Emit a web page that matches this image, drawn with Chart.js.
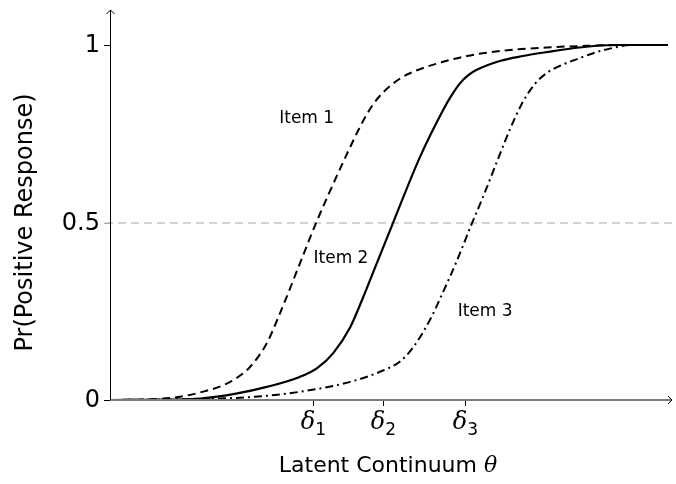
<!DOCTYPE html>
<html>
<head>
<meta charset="utf-8">
<script src="https://cdn.jsdelivr.net/npm/chart.js@4.4.1/dist/chart.umd.min.js"></script>
<style>
    html, body { margin: 0; padding: 0; background: #fff; }
    #wrap { width: 676px; height: 484px; }
</style>
</head>
<body>
<div id="wrap"><canvas id="iccChart" width="676" height="484"></canvas></div>
<script>
// latent continuum values (theta) and response probabilities
const item1Theta = [-3.9, -3.3, -2.9, -2.54, -2.3, -2.14, -1.9, -1.66, -1.47, -1.19, -0.97, -0.76, -0.51, -0.3, -0.15, 0, 0.24, 0.45, 0.71, 1.2, 1.67, 2.34, 2.81, 3.39, 4.07];
const item1Prob  = [0, 0.002, 0.009, 0.025, 0.040, 0.056, 0.093, 0.160, 0.245, 0.383, 0.492, 0.587, 0.695, 0.780, 0.830, 0.866, 0.905, 0.926, 0.944, 0.969, 0.983, 0.993, 0.997, 1.0, 1.0];

const item2Theta = [-3.9, -3.0, -2.61, -2.1, -1.66, -1.19, -0.94, -0.71, -0.47, -0.29, -0.09, 0.14, 0.53, 0.86, 0.98, 1.1, 1.22, 1.34, 1.67, 2.0, 2.34, 2.81, 3.29, 4.07];
const item2Prob  = [0, 0.001, 0.004, 0.018, 0.037, 0.065, 0.090, 0.132, 0.204, 0.286, 0.384, 0.497, 0.685, 0.817, 0.858, 0.892, 0.915, 0.930, 0.955, 0.969, 0.980, 0.993, 1.0, 1.0];

const item3Theta = [-3.9, -2.6, -1.9, -1.19, -0.47, 0, 0.24, 0.43, 0.67, 0.84, 1.06, 1.27, 1.43, 1.63, 1.82, 2.0, 2.17, 2.34, 2.57, 2.81, 3.05, 3.29, 3.53, 4.07];
const item3Prob  = [0, 0.003, 0.008, 0.023, 0.051, 0.083, 0.108, 0.148, 0.225, 0.296, 0.394, 0.497, 0.572, 0.672, 0.765, 0.840, 0.890, 0.921, 0.945, 0.963, 0.980, 0.992, 1.0, 1.0];

const itemLabels = ['Item 1', 'Item 2', 'Item 3'];
const labelTheta = [-1.09, -0.60, 1.46];
const labelProb  = [0.794, 0.399, 0.249];

const deltaValues = [-1.0, 0, 1.17];
const deltaSubs   = ['1', '2', '3'];
const yTickValues = [0, 0.5, 1];
const yTickLabels = ['0', '0.5', '1'];
const refLevel = 0.5;

const sansFont = '"DejaVu Sans", sans-serif';
const mathFont = '"DejaVu Serif", "Liberation Serif", serif';

function toPoints(xs, ys) {
    return xs.map(function(x, i) { return {x: x, y: ys[i]}; });
}

const axesPlugin = {
    id: 'axesPlugin',
    beforeDatasetsDraw: function(chart) {
        const ctx = chart.ctx;
        const area = chart.chartArea;
        const yScale = chart.scales.y;
        const y = Math.round(yScale.getPixelForValue(refLevel));
        ctx.save();
        ctx.strokeStyle = '#a8a8a8';
        ctx.lineWidth = 1.2;
        ctx.setLineDash([8, 5]);
        ctx.beginPath();
        ctx.moveTo(area.left - 5, y);
        ctx.lineTo(area.right, y);
        ctx.stroke();
        ctx.restore();
    },
    afterDraw: function(chart) {
        const ctx = chart.ctx;
        const area = chart.chartArea;
        const xScale = chart.scales.x;
        const yScale = chart.scales.y;
        const x0 = area.left + 0.5;
        const y0 = yScale.getPixelForValue(0);

        ctx.save();
        // x axis
        ctx.strokeStyle = '#7a7a7a';
        ctx.lineWidth = 2;
        ctx.beginPath();
        ctx.moveTo(area.left, y0);
        ctx.lineTo(area.right, y0);
        ctx.stroke();
        ctx.strokeStyle = '#000';
        ctx.lineWidth = 1;
        ctx.beginPath();
        ctx.moveTo(area.right - 4, y0 - 4);
        ctx.lineTo(area.right, y0);
        ctx.lineTo(area.right - 4, y0 + 4);
        ctx.stroke();

        // y axis
        ctx.beginPath();
        ctx.moveTo(x0, y0);
        ctx.lineTo(x0, area.top);
        ctx.stroke();
        ctx.beginPath();
        ctx.moveTo(x0 - 4, area.top + 4);
        ctx.lineTo(x0, area.top);
        ctx.lineTo(x0 + 4, area.top + 4);
        ctx.stroke();

        // y ticks
        ctx.fillStyle = '#000';
        ctx.font = '24px ' + sansFont;
        ctx.textAlign = 'right';
        ctx.textBaseline = 'middle';
        yTickValues.forEach(function(v, i) {
            const py = Math.round(yScale.getPixelForValue(v)) + 0.5;
            ctx.strokeStyle = v === refLevel ? '#a8a8a8' : '#000';
            ctx.beginPath();
            ctx.moveTo(area.left - 6, py);
            ctx.lineTo(area.left, py);
            ctx.stroke();
            ctx.fillText(yTickLabels[i], area.left - 10, py);
        });

        // x ticks (delta)
        ctx.strokeStyle = '#000';
        deltaValues.forEach(function(v, i) {
            const px = Math.round(xScale.getPixelForValue(v)) + 0.5;
            ctx.beginPath();
            ctx.moveTo(px, y0 + 1);
            ctx.lineTo(px, y0 + 6);
            ctx.stroke();
            ctx.font = 'italic 24px ' + mathFont;
            const wd = ctx.measureText('δ').width;
            ctx.font = '17px ' + sansFont;
            const ws = ctx.measureText(deltaSubs[i]).width;
            const left = px - (wd + ws) / 2;
            ctx.textAlign = 'left';
            ctx.textBaseline = 'alphabetic';
            ctx.font = 'italic 24px ' + mathFont;
            ctx.fillText('δ', left, y0 + 29);
            ctx.font = '17px ' + sansFont;
            ctx.fillText(deltaSubs[i], left + wd, y0 + 35);
        });

        // item labels
        ctx.font = '17px ' + sansFont;
        ctx.textAlign = 'center';
        ctx.textBaseline = 'middle';
        itemLabels.forEach(function(txt, i) {
            ctx.fillText(txt, xScale.getPixelForValue(labelTheta[i]), yScale.getPixelForValue(labelProb[i]));
        });

        // axis titles
        ctx.font = '22px ' + sansFont;
        ctx.textBaseline = 'middle';
        const title = 'Latent Continuum ';
        const wt = ctx.measureText(title).width;
        ctx.font = 'italic 22px ' + mathFont;
        const wth = ctx.measureText('θ').width;
        const tx = 388 - (wt + wth) / 2;
        ctx.textAlign = 'left';
        ctx.font = '22px ' + sansFont;
        ctx.fillText(title, tx, 466);
        ctx.font = 'italic 22px ' + mathFont;
        ctx.fillText('θ', tx + wt, 466);

        ctx.translate(26, yScale.getPixelForValue(refLevel));
        ctx.rotate(-Math.PI / 2);
        ctx.textAlign = 'center';
        ctx.font = '24px ' + sansFont;
        ctx.fillText('Pr(Positive Response)', 0, 0);
        ctx.restore();
    }
};

const ctx = document.getElementById('iccChart').getContext('2d');
const iccChart = new Chart(ctx, {
    type: 'line',
    data: {
        datasets: [
            {
                label: itemLabels[0],
                data: toPoints(item1Theta, item1Prob),
                borderColor: '#000',
                borderWidth: 2,
                borderDash: [8, 5],
                pointRadius: 0,
                fill: false,
                cubicInterpolationMode: 'monotone'
            },
            {
                label: itemLabels[1],
                data: toPoints(item2Theta, item2Prob),
                borderColor: '#000',
                borderWidth: 2.2,
                pointRadius: 0,
                fill: false,
                cubicInterpolationMode: 'monotone'
            },
            {
                label: itemLabels[2],
                data: toPoints(item3Theta, item3Prob),
                borderColor: '#000',
                borderWidth: 2,
                borderDash: [8, 4, 2, 4],
                pointRadius: 0,
                fill: false,
                cubicInterpolationMode: 'monotone'
            }
        ]
    },
    options: {
        responsive: false,
        animation: false,
        layout: {
            padding: {left: 110, right: 4, top: 10, bottom: 84}
        },
        plugins: {
            legend: {display: false},
            tooltip: {enabled: false}
        },
        scales: {
            x: {
                type: 'linear',
                min: -3.9,
                max: 4.13,
                display: false
            },
            y: {
                type: 'linear',
                min: 0,
                max: 1.0986,
                display: false
            }
        }
    },
    plugins: [axesPlugin]
});
</script>
</body>
</html>
